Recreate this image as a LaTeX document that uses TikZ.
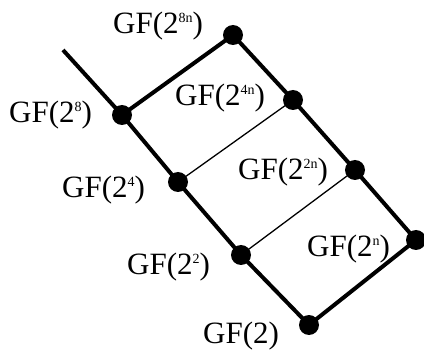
\documentclass[tikz,border=0pt]{standalone}
\usepackage{fontspec}
\setmainfont{Liberation Serif}
\newcommand\gfsup[1]{\raisebox{11.5pt}{\fontsize{14}{14}\selectfont #1}}
\tikzset{
  dot/.style={circle,fill=black,inner sep=0pt,minimum size=20pt},
  lbl/.style={anchor=base west,inner sep=0pt,font=\fontsize{31}{33}\selectfont},
  thick line/.style={line width=4pt},
  thin line/.style={line width=1.3pt}
}
\begin{document}
\begin{tikzpicture}[x=1pt,y=-1pt]
\useasboundingbox (0,0) rectangle (424,353);
\coordinate (start) at (63,50);
\node[dot] (a8) at (122,115) {};
\node[dot] (a4) at (178,182) {};
\node[dot] (a2) at (241,255) {};
\node[dot] (a1) at (309,325) {};
\node[dot] (b8) at (233,35) {};
\node[dot] (b4) at (293,100) {};
\node[dot] (b2) at (355,170) {};
\node[dot] (b1) at (416,240) {};
\draw[thick line] (start) -- (a8.center) -- (a4.center) -- (a2.center) -- (a1.center) -- (b1.center) -- (b2.center) -- (b4.center) -- (b8.center) -- (a8.center);
\draw[thin line] (a4.center) -- (b4.center);
\draw[thin line] (a2.center) -- (b2.center);
\node[lbl] (l8n) at (113,34) {GF(2\gfsup{8n})};
\node[lbl] (l8) at (9,123) {GF(2\gfsup{8})};
\node[lbl] (l4n) at (175,106) {GF(2\gfsup{4n})};
\node[lbl] (l4) at (62,198) {GF(2\gfsup{4})};
\node[lbl] (l2n) at (238,180) {GF(2\gfsup{2n})};
\node[lbl] (l2) at (127,275) {GF(2\gfsup{2})};
\node[lbl] (ln) at (307,257) {GF(2\gfsup{n})};
\node[lbl] (l1) at (203,343) {GF(2)};
\end{tikzpicture}
\end{document}
